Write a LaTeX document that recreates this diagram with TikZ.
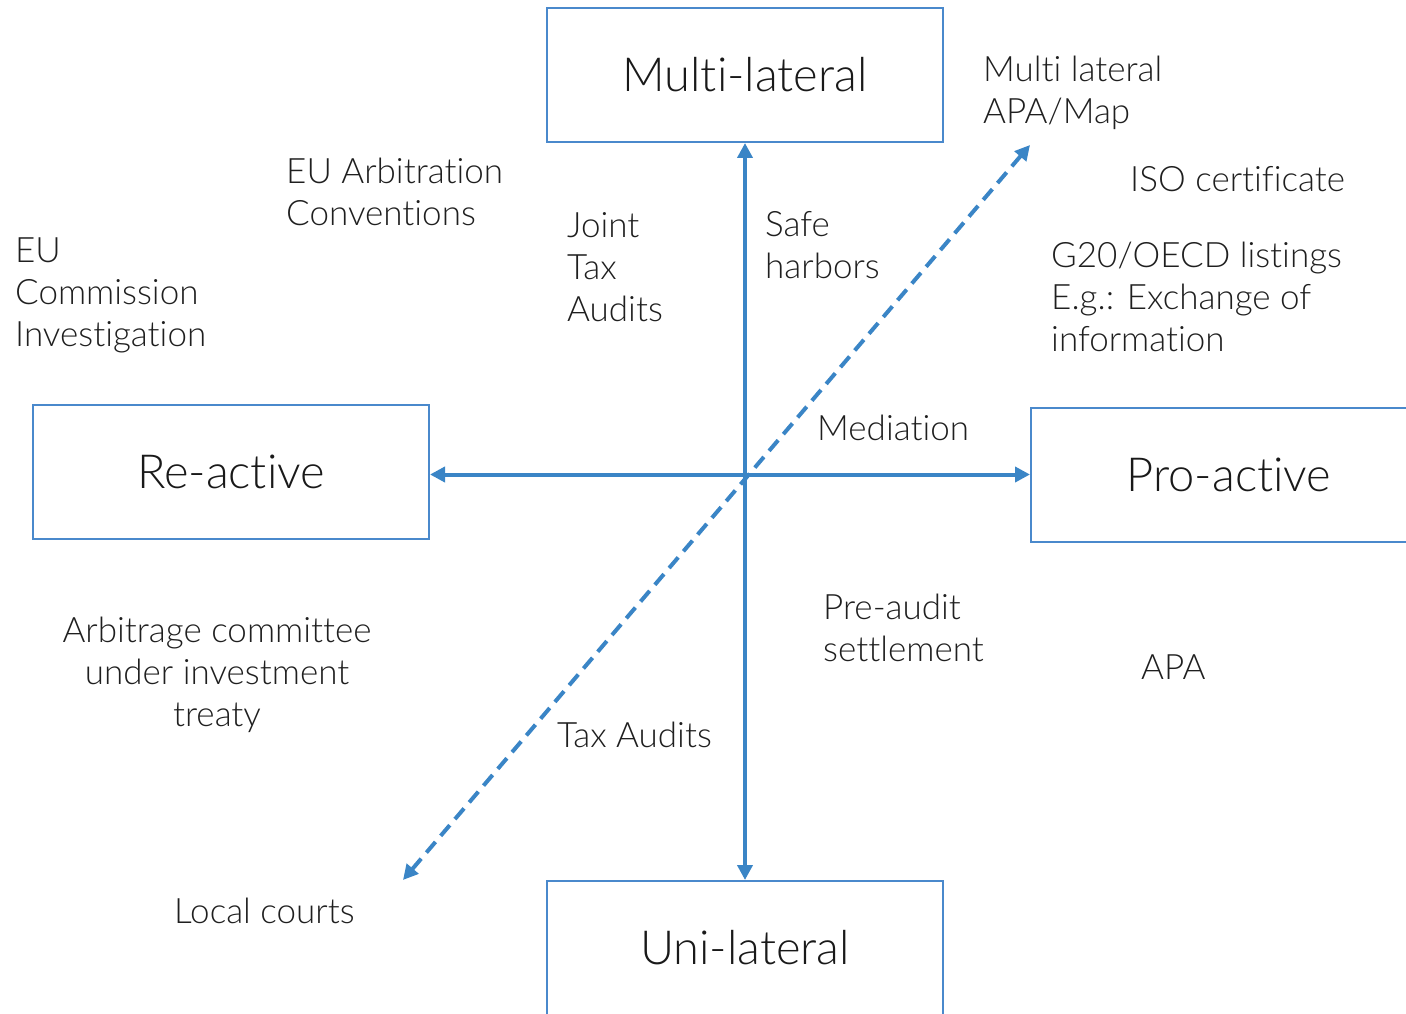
\documentclass[tikz,border=0pt]{standalone}
\usepackage{fontspec}
\setmainfont{Lato}[UprightFont={* Light}, Ligatures={NoCommon}]
\usetikzlibrary{arrows.meta}
\definecolor{axisblue}{HTML}{3A85C6}
\definecolor{boxblue}{HTML}{4A89CC}
\tikzset{
  bigbox/.style={draw=boxblue, line width=2pt, minimum width=396pt, minimum height=134pt, inner sep=0pt,
    font=\fontsize{47}{56}\selectfont, text=black!90},
  lbl/.style={anchor=north west, inner sep=0pt, align=left, font=\fontsize{35}{42}\selectfont, text=black!88},
  axis/.style={draw=axisblue, line width=4pt, {Triangle[length=15pt,width=15pt]}-{Triangle[length=15pt,width=15pt]}},
  diag/.style={axis, dash pattern=on 14pt off 8pt}
}
\begin{document}
\begin{tikzpicture}[x=1pt,y=-1pt]
\useasboundingbox (0,0) rectangle (1406,1014);
\node[bigbox] (multi) at (745,75) {Multi-lateral};
\node[bigbox] (reac) at (231,471.5) {Re-active};
\node[bigbox] (proa) at (1229,474.5) {Pro-active};
\node[bigbox] (uni) at (745,948) {Uni-lateral};
\coordinate (dl) at (403,880);
\coordinate (ur) at (1030,145);
\draw[axis] (multi.south) -- (uni.north);
\draw[axis] (reac.east |- proa.west) -- (proa.west);
\draw[diag] (dl) -- (ur);
\node[lbl] (mlapa) at (983,56) {Multi lateral\\APA/Map};
\node[lbl] (iso) at (1130,166) {ISO certificate};
\node[lbl] (g20) at (1051,242) {G20/OECD listings\\E.g.: Exchange of\\information};
\node[lbl] (euarb) at (286,158) {EU Arbitration\\Conventions};
\node[lbl] (eucom) at (15,238) {EU\\Commission\\Investigation};
\node[lbl] (joint) at (567,212) {Joint\\Tax\\Audits};
\node[lbl] (safe) at (765,211) {Safe\\harbors};
\node[lbl] (med) at (817,415) {Mediation};
\node[lbl] (pre) at (823,594) {Pre-audit\\settlement};
\node[lbl] (apa) at (1141,655) {APA};
\node[lbl, anchor=north, align=center] (arb) at (217,617) {Arbitrage committee\\under investment\\treaty};
\node[lbl] (tax) at (557,722) {Tax Audits};
\node[lbl] (local) at (174,898) {Local courts};
\end{tikzpicture}
\end{document}
